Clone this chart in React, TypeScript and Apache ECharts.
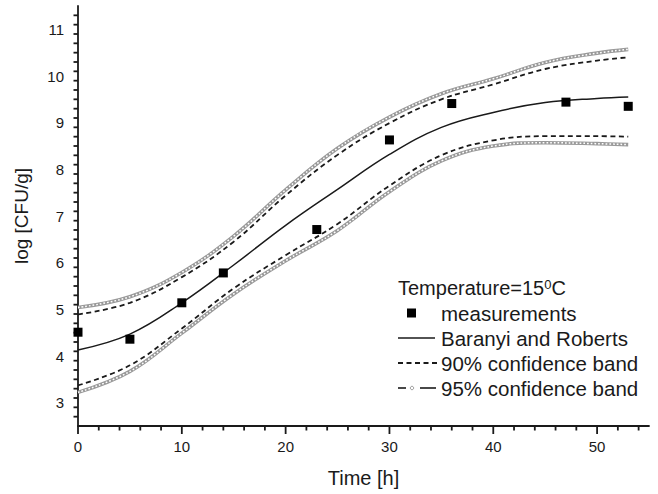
import React, { useEffect, useRef } from "react";
import * as echarts from "echarts";

// Model curve (Baranyi and Roberts) and its confidence bands, log CFU/g vs time
const hours = [0, 5, 10, 15, 20, 25, 30, 35, 40, 45, 50, 53];
const baranyiFit = [4.13, 4.47, 5.14, 5.95, 6.8, 7.57, 8.32, 8.9, 9.22, 9.43, 9.52, 9.55];
const upper95 = [5.04, 5.27, 5.79, 6.57, 7.56, 8.45, 9.12, 9.62, 9.94, 10.29, 10.49, 10.57];
const upper90 = [4.89, 5.14, 5.69, 6.45, 7.44, 8.31, 8.99, 9.5, 9.82, 10.15, 10.33, 10.4];
const lower90 = [3.37, 3.8, 4.59, 5.45, 6.16, 6.83, 7.65, 8.3, 8.62, 8.71, 8.71, 8.7];
const lower95 = [3.22, 3.67, 4.49, 5.33, 6.04, 6.69, 7.52, 8.18, 8.5, 8.57, 8.55, 8.53];

// Measured counts
const sampleHours = [0, 5, 10, 14, 23, 30, 36, 47, 53];
const sampleLogCfu = [4.51, 4.36, 5.14, 5.78, 6.71, 8.63, 9.41, 9.44, 9.35];

// Axis ticks
const xMajorTicks = [0, 10, 20, 30, 40, 50];
const yMajorTicks = [3, 4, 5, 6, 7, 8, 9, 10, 11];
const X_MIN = 0;
const X_MAX = 55;
const Y_MIN = 2.5;
const Y_MAX = 11.5;

const MAJOR_LEN = 8;
const MINOR_LEN = 4.5;

// tick marks as [value, length]: majors at labelled values, minors every 2 h / 0.2 log
const xTickMarks: number[][] = [];
for (let v = 0; v < X_MAX; v += 2) {
  xTickMarks.push([v, v % 10 === 0 ? MAJOR_LEN : MINOR_LEN]);
}
const yTickMarks: number[][] = [];
for (let i = 1; i <= 44; i++) {
  const v = Math.round((Y_MIN + i * 0.2) * 10) / 10;
  const isMajor = Math.abs(v - Math.round(v)) < 1e-6;
  yTickMarks.push([isMajor ? MAJOR_LEN : MINOR_LEN, v]);
}

const FONT = "'Liberation Sans', Arial, Helvetica, sans-serif";
const INK = "#1a1a1a";
const GRAY = "#9a9a9a";
const AXIS_W = 1.8;

const pairs = (xs: number[], ys: number[]) => xs.map((x, i) => [x, ys[i]]);

export default function App() {
  const ref = useRef<HTMLDivElement>(null);

  useEffect(() => {
    if (!ref.current) return;
    const chart = echarts.init(ref.current, undefined, { renderer: "svg" });

    const dashedBand = (name: string, ys: number[]) => ({
      name,
      type: "line",
      data: pairs(hours, ys),
      smooth: 0.4,
      showSymbol: false,
      z: 3,
      lineStyle: { color: INK, width: 1.8, type: [5, 3.5] },
    });

    // 95% band: gray strand with white pips on top gives a chain-of-rings look
    const chainBase = (name: string, ys: number[]) => ({
      name,
      type: "line",
      data: pairs(hours, ys),
      smooth: 0.4,
      showSymbol: false,
      z: 2,
      lineStyle: { color: GRAY, width: 3.6 },
    });
    const chainPips = (name: string, ys: number[]) => ({
      name,
      type: "line",
      data: pairs(hours, ys),
      smooth: 0.4,
      showSymbol: false,
      z: 2,
      silent: true,
      lineStyle: { color: "#ffffff", width: 1.5, type: [1.7, 2.0] },
    });

    const axisText = { color: INK, fontFamily: FONT, fontSize: 15 };
    const axisLine = { show: true, onZero: false, lineStyle: { color: INK, width: AXIS_W } };

    chart.setOption({
      animation: false,
      backgroundColor: "#ffffff",
      grid: { left: 78, right: 9, top: 6, bottom: 68, containLabel: false },
      xAxis: {
        type: "value",
        min: X_MIN,
        max: X_MAX,
        position: "bottom",
        axisLine,
        axisTick: { show: false },
        axisLabel: { customValues: xMajorTicks, margin: 13, ...axisText },
        splitLine: { show: false },
        name: "Time [h]",
        nameLocation: "middle",
        nameGap: 42,
        nameTextStyle: { color: INK, fontFamily: FONT, fontSize: 20 },
      },
      yAxis: {
        type: "value",
        min: Y_MIN,
        max: Y_MAX,
        position: "left",
        axisLine,
        axisTick: { show: false },
        axisLabel: { customValues: yMajorTicks, margin: 14, ...axisText },
        splitLine: { show: false },
        name: "log [CFU/g]",
        nameLocation: "middle",
        nameGap: 47,
        nameRotate: 90,
        nameTextStyle: { color: INK, fontFamily: FONT, fontSize: 19 },
      },
      series: [
        {
          // outward tick marks on the time axis
          type: "custom",
          silent: true,
          clip: false,
          z: 1,
          data: xTickMarks,
          renderItem: (_params: any, api: any) => {
            const p = api.coord([api.value(0), Y_MIN]);
            return {
              type: "line",
              shape: { x1: p[0], y1: p[1], x2: p[0], y2: p[1] + api.value(1) },
              style: { stroke: INK, lineWidth: AXIS_W },
            };
          },
        },
        {
          // outward tick marks on the log-count axis
          type: "custom",
          silent: true,
          clip: false,
          z: 1,
          data: yTickMarks,
          renderItem: (_params: any, api: any) => {
            const p = api.coord([X_MIN, api.value(1)]);
            return {
              type: "line",
              shape: { x1: p[0] - api.value(0), y1: p[1], x2: p[0], y2: p[1] },
              style: { stroke: INK, lineWidth: AXIS_W },
            };
          },
        },
        chainBase("95% confidence band", upper95),
        chainPips("95% confidence band", upper95),
        chainBase("95% confidence band", lower95),
        chainPips("95% confidence band", lower95),
        dashedBand("90% confidence band", upper90),
        dashedBand("90% confidence band", lower90),
        {
          name: "Baranyi and Roberts",
          type: "line",
          data: pairs(hours, baranyiFit),
          smooth: 0.4,
          showSymbol: false,
          z: 4,
          lineStyle: { color: INK, width: 1.5 },
        },
        {
          name: "measurements",
          type: "scatter",
          data: pairs(sampleHours, sampleLogCfu),
          symbol: "rect",
          symbolSize: 9,
          z: 5,
          itemStyle: { color: "#000000", opacity: 1 },
        },
      ],
      graphic: [
        {
          type: "text",
          x: 398,
          y: 288,
          style: {
            text: "Temperature=15{s|0}C",
            fill: INK,
            fontFamily: FONT,
            fontSize: 20,
            align: "left",
            verticalAlign: "middle",
            rich: { s: { fontSize: 13, fontFamily: FONT, fill: INK, verticalAlign: "top" } },
          },
        },
        { type: "rect", shape: { x: 407, y: 308.5, width: 9, height: 9 }, style: { fill: "#000000" } },
        { type: "line", shape: { x1: 398, y1: 338, x2: 435, y2: 338 }, style: { stroke: INK, lineWidth: 1.5 } },
        {
          type: "line",
          shape: { x1: 398, y1: 363, x2: 437, y2: 363 },
          style: { stroke: INK, lineWidth: 1.8, lineDash: [5, 3.5] },
        },
        { type: "line", shape: { x1: 398, y1: 388, x2: 406, y2: 388 }, style: { stroke: INK, lineWidth: 1.6 } },
        { type: "circle", shape: { cx: 412, cy: 388, r: 1.7 }, style: { fill: "#ffffff", stroke: GRAY, lineWidth: 1 } },
        { type: "line", shape: { x1: 420, y1: 388, x2: 436, y2: 388 }, style: { stroke: INK, lineWidth: 1.6 } },
        ...[
          ["measurements", 313],
          ["Baranyi and Roberts", 338],
          ["90% confidence band", 363],
          ["95% confidence band", 388],
        ].map(([label, y]) => ({
          type: "text",
          x: 441,
          y: y as number,
          style: {
            text: label as string,
            fill: INK,
            fontFamily: FONT,
            fontSize: 20.5,
            align: "left",
            verticalAlign: "middle",
          },
        })),
      ],
    });

    return () => chart.dispose();
  }, []);

  return (
    <div
      ref={ref}
      style={{ position: "fixed", left: 0, top: 0, width: 658, height: 494, background: "#ffffff" }}
    />
  );
}
